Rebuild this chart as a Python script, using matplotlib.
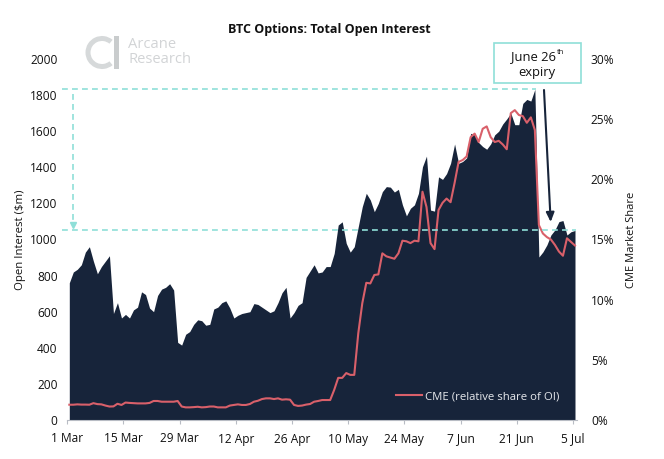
import numpy as np
import pandas as pd
import matplotlib
matplotlib.use("Agg")
import matplotlib.pyplot as plt
from matplotlib.patches import Wedge, Rectangle

plt.rcParams['font.family'] = ['Open Sans', 'DejaVu Sans']

dates = pd.date_range("2021-03-01", periods=127, freq="D")
tick_labels = ["1 Mar", "15 Mar", "29 Mar", "12 Apr", "26 Apr", "10 May", "24 May", "7 Jun", "21 Jun", "5 Jul"]

open_interest = [
    760, 820, 835, 860, 930, 960, 880, 810, 850, 880, 910, 590, 650, 565, 585, 565,
    610, 625, 710, 695, 620, 600, 690, 725, 735, 755, 720, 430, 415, 475, 490, 530,
    555, 550, 525, 530, 615, 625, 650, 660, 620, 565, 580, 590, 595, 600, 645, 640,
    625, 610, 595, 605, 650, 705, 735, 565, 595, 635, 650, 790, 825, 860, 815, 820,
    850, 850, 923, 1080, 1098, 979, 930, 960, 1071, 1182, 1256, 1219, 1154, 1200, 1265, 1293,
    1290, 1263, 1278, 1192, 1131, 1173, 1192, 1256, 1403, 1462, 1163, 1157, 1347, 1333, 1365, 1422,
    1529, 1422, 1432, 1452, 1588, 1580, 1537, 1515, 1500, 1530, 1580, 1600, 1640, 1668, 1700, 1636,
    1636, 1754, 1776, 1767, 1832, 903, 931, 970, 1025, 1053, 1099, 1105, 1025, 1043, 1050,
]
cme_share = [
    1.27, 1.27, 1.30, 1.28, 1.28, 1.27, 1.40, 1.32, 1.30, 1.20, 1.12, 1.13, 1.35, 1.25, 1.45, 1.42,
    1.40, 1.38, 1.38, 1.38, 1.42, 1.58, 1.58, 1.52, 1.52, 1.52, 1.52, 1.58, 1.12, 1.05, 1.05, 1.07,
    1.10, 1.05, 1.07, 1.12, 1.12, 1.05, 1.05, 1.05, 1.20, 1.25, 1.30, 1.25, 1.25, 1.33, 1.52, 1.60,
    1.74, 1.80, 1.80, 1.74, 1.80, 1.69, 1.72, 1.69, 1.25, 1.17, 1.20, 1.28, 1.33, 1.52, 1.58, 1.66,
    1.66, 1.66, 2.50, 3.50, 3.50, 3.90, 3.75, 3.75, 7.20, 9.70, 11.40, 11.35, 12.05, 12.10, 13.85, 13.60,
    13.50, 13.40, 13.85, 14.90, 14.85, 14.70, 14.90, 14.85, 18.97, 17.70, 14.70, 14.20, 17.45, 18.05, 18.40, 18.10,
    19.70, 21.45, 21.60, 21.90, 23.50, 23.80, 23.10, 24.20, 24.40, 23.50, 23.10, 23.20, 22.90, 22.50, 25.50, 25.75,
    25.35, 25.25, 24.70, 25.15, 24.10, 16.20, 15.50, 15.20, 15.00, 14.55, 14.00, 13.65, 15.10, 14.80, 14.50,
]

NAVY = "#17243a"
RED = "#d9606a"
TEAL = "#8fdfd8"
W, H = 664, 459

fig = plt.figure(figsize=(W / 100, H / 100), dpi=100, facecolor="white")
L, R, T, B = 67.3, 577, 59, 420
ax = fig.add_axes([L / W, 1 - B / H, (R - L) / W, (B - T) / H])
x = np.arange(len(dates))
ax.fill_between(x, open_interest, 0, color=NAVY, lw=0, zorder=2)
ax.set_xlim(-0.5, 126.5)
ax.set_ylim(0, 2000)
ax.set_yticks(range(0, 2001, 200))
tick_pos = np.arange(0, 127, 14) - 0.5
ax.set_xticks(tick_pos)
ax.set_xticklabels(tick_labels)
ax.tick_params(axis='x', length=3, color="#b8bcc4", labelsize=8.6, pad=6, labelcolor="#111111")
ax.tick_params(axis='y', length=0, labelsize=8.6, pad=7, labelcolor="#111111")
for s in ['top', 'left', 'right']:
    ax.spines[s].set_visible(False)
ax.spines['bottom'].set_color("#b8bcc4")
ax.spines['bottom'].set_zorder(5)
ax.set_ylabel("Open Interest ($m)", fontsize=8.2, color="#111111")
ax.yaxis.set_label_coords((26 - L) / (R - L), 0.5)

ax2 = ax.twinx()
ax2.set_ylim(0, 30)
ax2.set_yticks(range(0, 31, 5))
ax2.set_yticklabels([f"{v}%" for v in range(0, 31, 5)])
ax2.tick_params(axis='y', length=0, labelsize=8.6, pad=10, labelcolor="#111111")
for s in ax2.spines.values():
    s.set_visible(False)
line, = ax2.plot(x, cme_share, color=RED, lw=1.5, zorder=4, label="CME (relative share of OI)",
                 solid_joinstyle='round')
ax2.set_ylabel("CME Market Share", fontsize=8, color="#111111")
ax2.yaxis.set_label_coords((626 - L) / (R - L), 0.5)

leg = ax2.legend(handles=[line], loc='lower right', bbox_to_anchor=(0.974, 0.037), frameon=False,
                 fontsize=8.2, handlelength=2.3, handletextpad=0.25, borderaxespad=0)
for t in leg.get_texts():
    t.set_color("#e6e8ec")

# dashed reference lines, annotated in the primary value scale
px = lambda v: -0.5 + (v - L) / (R - L) * 127
top_v, low_v = 1832, 1052
to2 = 30 / 2000
dash = dict(color=TEAL, lw=1.2, dashes=(3.5, 2.5), clip_on=False, zorder=6)
ax2.plot([px(62), px(536)], [top_v * to2] * 2, **dash)
ax2.plot([px(62), px(576)], [low_v * to2] * 2, **dash)
ax2.plot([px(72.5)] * 2, [(top_v - 25) * to2, (low_v + 45) * to2], **dash)
ax2.plot([px(72.5)], [(low_v + 28) * to2], marker='v', ms=5, color=TEAL, clip_on=False, zorder=6)

# expiry arrow
ax2.annotate("", xy=(px(550.7), (420 - 222) / 361 * 30), xytext=(px(544), (420 - 90) / 361 * 30),
             arrowprops=dict(arrowstyle="-|>,head_width=0.24,head_length=0.55", color=NAVY, lw=1.5,
                             shrinkA=0, shrinkB=0), zorder=7)

# figure-level decorations in pixel coordinates
def fx(p): return p / W
def fy(p): return 1 - p / H

fig.text(fx(329), fy(29), "BTC Options: Total Open Interest", ha='center', va='center',
         fontsize=9.0, fontweight='bold', color="#111111")

fig.add_artist(Rectangle((fx(493.5), fy(83)), 87 / W, 40 / H, transform=fig.transFigure,
                         fc="white", ec=TEAL, lw=1.2, zorder=8))
fig.text(fx(533.5), fy(56.5), "June 26", ha='center', va='center', fontsize=9.4, color="#111111", zorder=9)
fig.text(fx(556.5), fy(52), "th", ha='left', va='center', fontsize=5.5, color="#111111", zorder=9)
fig.text(fx(537), fy(72.5), "expiry", ha='center', va='center', fontsize=9.4, color="#111111", zorder=9)

# logo
logo_ax = fig.add_axes([0, 0, 1, 1], facecolor="none")
logo_ax.set_xlim(0, W)
logo_ax.set_ylim(H, 0)
logo_ax.axis('off')
logo_ax.add_patch(Wedge((102, 52.5), 16.5, 50, 310, width=5, fc="#d6d9da", ec="none"))
logo_ax.add_patch(Rectangle((113.5, 36), 5.5, 33, fc="#c9cccd", ec="none"))
logo_ax.text(128.5, 44.5, "Arcane", fontsize=10.6, color="#d2d4d6", va='center', ha='left')
logo_ax.text(128.5, 59.5, "Research", fontsize=10.6, color="#d2d4d6", va='center', ha='left')

fig.savefig("out.png", dpi=100, facecolor="white")
